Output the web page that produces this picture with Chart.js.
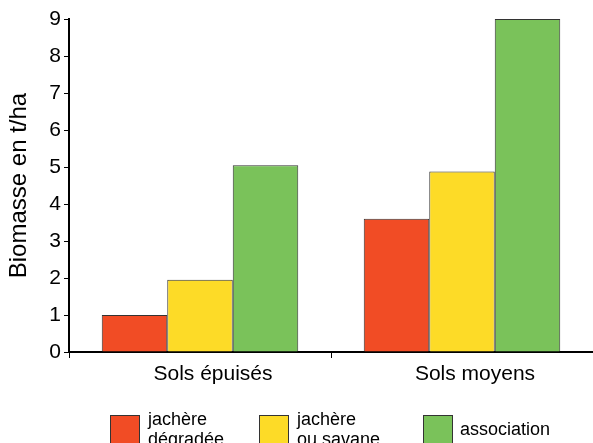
<!DOCTYPE html>
<html>
<head>
<meta charset="utf-8">
<script src="https://cdn.jsdelivr.net/npm/chart.js@4/dist/chart.umd.min.js"></script>
<style>
  html, body { margin: 0; padding: 0; background: #fff; }
  #wrap { width: 593px; height: 443px; }
</style>
</head>
<body>
<div id="wrap"><canvas id="bioChart"></canvas></div>
<script>
// data
const categories = ['Sols épuisés', 'Sols moyens'];
const degradee = [1.0, 3.6];
const savane = [1.95, 4.88];
const association = [5.05, 9.0];
const yTicks = [0, 1, 2, 3, 4, 5, 6, 7, 8, 9];

const FONT = "'Liberation Sans', Arial, sans-serif";

// legend with two-line labels, drawn under the plot
const bottomLegend = {
    id: 'bottomLegend',
    afterDraw(chart) {
        const ctx = chart.ctx;
        const xs = [110, 259, 423];
        ctx.save();
        ctx.font = '18px ' + FONT;
        ctx.textBaseline = 'alphabetic';
        chart.data.datasets.forEach((ds, i) => {
            const x = xs[i];
            ctx.fillStyle = ds.backgroundColor;
            ctx.fillRect(x, 415, 30, 30);
            ctx.strokeStyle = '#333';
            ctx.lineWidth = 1;
            ctx.strokeRect(x + 0.5, 415.5, 29, 30);
            ctx.fillStyle = '#000';
            const lines = ds.legendLines;
            if (lines.length === 1) {
                ctx.fillText(lines[0], x + 37, 435);
            } else {
                ctx.fillText(lines[0], x + 38, 425);
                ctx.fillText(lines[1], x + 38, 445);
            }
        });
        ctx.restore();
    }
};

new Chart(document.getElementById('bioChart'), {
    type: 'bar',
    data: {
        labels: categories,
        datasets: [
            { label: 'jachère dégradée', legendLines: ['jachère', 'dégradée'], data: degradee,
              backgroundColor: '#F14C25', borderColor: '#333', borderWidth: 1 },
            { label: 'jachère ou savane', legendLines: ['jachère', 'ou savane'], data: savane,
              backgroundColor: '#FDDB27', borderColor: '#333', borderWidth: 1 },
            { label: 'association', legendLines: ['association'], data: association,
              backgroundColor: '#7AC25A', borderColor: '#333', borderWidth: 1 }
        ]
    },
    options: {
        responsive: true,
        maintainAspectRatio: false,
        animation: false,
        layout: { padding: { top: 19, right: 0, bottom: 0, left: 0 } },
        datasets: { bar: { categoryPercentage: 0.75, barPercentage: 1 } },
        scales: {
            x: {
                afterFit(axis) { axis.height = 91; },
                grid: { offset: true, drawOnChartArea: false, color: '#000', tickLength: 6 },
                border: { color: '#000', width: 2 },
                ticks: { color: '#000', font: { family: FONT, size: 21 }, padding: 4, labelOffset: 13 }
            },
            y: {
                min: 0, max: 9,
                afterBuildTicks(axis) { axis.ticks = yTicks.map(v => ({ value: v })); },
                afterFit(axis) { axis.width = 69; },
                grid: { drawOnChartArea: false, color: '#000', tickLength: 5 },
                border: { color: '#000', width: 2 },
                ticks: { color: '#000', font: { family: FONT, size: 21 }, padding: 3 },
                title: { display: true, text: 'Biomasse en t/ha', color: '#000',
                         font: { family: FONT, size: 24 }, padding: { top: 5, bottom: 0 } }
            }
        },
        plugins: {
            legend: { display: false },
            tooltip: { enabled: false }
        }
    },
    plugins: [bottomLegend]
});
</script>
</body>
</html>
